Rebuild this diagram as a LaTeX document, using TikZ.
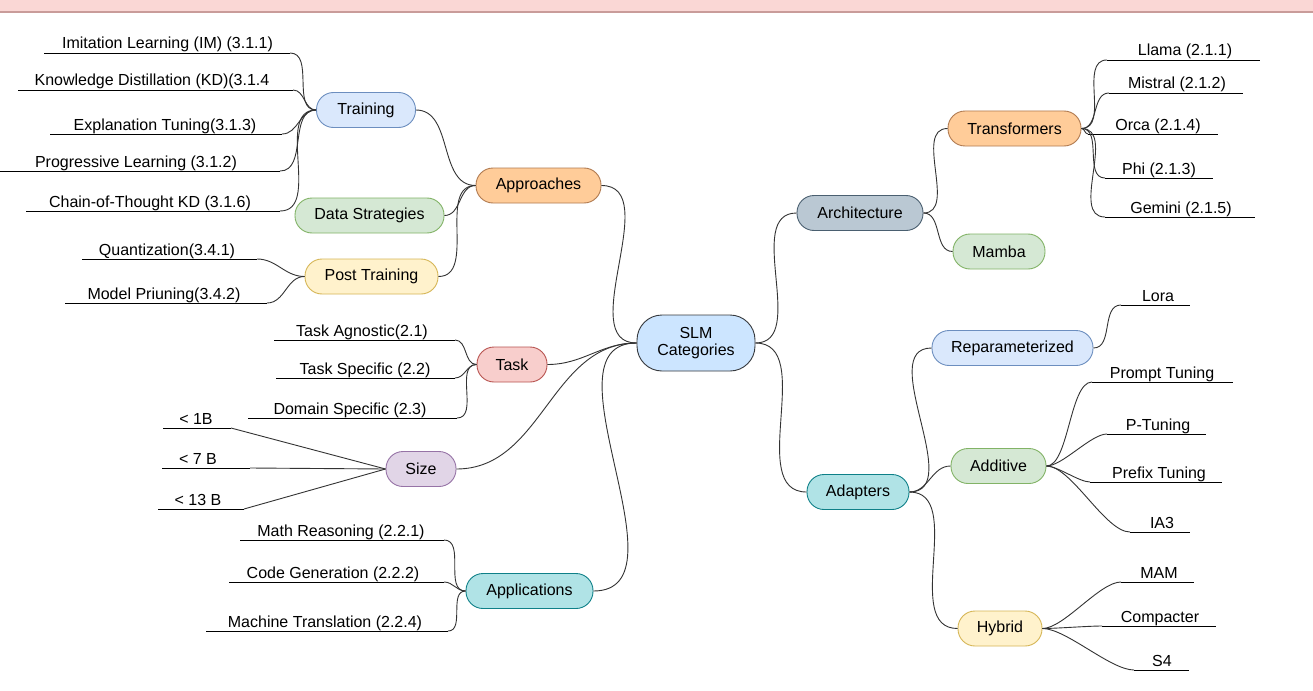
\documentclass[tikz,border=0pt]{standalone}
\usepackage{fontspec}
\setmainfont{Liberation Sans}
\definecolor{slmF}{HTML}{CCE5FF}
\definecolor{dkS}{HTML}{36393D}
\definecolor{blueF}{HTML}{DAE8FC}
\definecolor{blueD}{HTML}{6C8EBF}
\definecolor{orangeF}{HTML}{FFCC99}
\definecolor{orangeD}{HTML}{B07A50}
\definecolor{greenF}{HTML}{D5E8D4}
\definecolor{greenD}{HTML}{82B366}
\definecolor{yellowF}{HTML}{FFF2CC}
\definecolor{yellowD}{HTML}{D6B656}
\definecolor{redF}{HTML}{F8CECC}
\definecolor{redD}{HTML}{B85450}
\definecolor{purpleF}{HTML}{E1D5E7}
\definecolor{purpleD}{HTML}{9673A6}
\definecolor{tealF}{HTML}{B0E3E6}
\definecolor{tealD}{HTML}{0E8088}
\definecolor{slateF}{HTML}{BAC8D3}
\definecolor{slateD}{HTML}{4A5F70}
\definecolor{bandF}{HTML}{FAD7D5}
\definecolor{bandD}{HTML}{C99C9A}
\definecolor{linkC}{HTML}{333333}
\tikzset{
  box/.style={draw, rounded corners=17pt, minimum height=35pt, inner sep=0pt,
    font=\fontsize{16}{19}\selectfont, line width=0.9pt, text=black},
  leaftext/.style={anchor=base, inner sep=0pt, font=\fontsize{16}{19}\selectfont, text=black},
  link/.style={draw=linkC, line width=0.9pt},
  uline/.style={draw=black, line width=0.9pt}
}
\newcommand{\leafline}[6]{%
  \coordinate (#1-l) at (#2,#4);
  \coordinate (#1-r) at (#3,#4);
  \node[leaftext] (#1) at (#5,#4-4) {#6};
  \draw[uline] (#1-l) -- (#1-r);
}
\begin{document}
\begin{tikzpicture}[x=1pt,y=-1pt]
\useasboundingbox (0,0) rectangle (1313,690);
\fill[white] (0,0) rectangle (1313,690);
\fill[bandF] (0,0) rectangle (1313,11);
\draw[bandD, line width=2.2pt] (0,12) -- (1313,12);

% main nodes
\node[box, fill=slmF, draw=dkS, minimum width=118pt, minimum height=56pt, rounded corners=25pt, align=center] (slm) at (696,343) {SLM\\[-2pt]Categories};
\node[box, fill=orangeF, draw=orangeD, minimum width=125pt] (appr) at (538.5,185.5) {Approaches};
\node[box, fill=blueF, draw=blueD, minimum width=99pt] (train) at (366,110) {Training};
\node[box, fill=greenF, draw=greenD, minimum width=149pt] (data) at (369.5,215.5) {Data Strategies};
\node[box, fill=yellowF, draw=yellowD, minimum width=133pt] (post) at (371.5,276.5) {Post Training};
\node[box, fill=redF, draw=redD, minimum width=70pt] (task) at (512,364.5) {Task};
\node[box, fill=purpleF, draw=purpleD, minimum width=70pt] (size) at (421,469) {Size};
\node[box, fill=tealF, draw=tealD, minimum width=127pt] (appl) at (529.5,591) {Applications};
\node[box, fill=slateF, draw=slateD, minimum width=126pt] (arch) at (860,213) {Architecture};
\node[box, fill=orangeF, draw=orangeD, minimum width=133pt] (trans) at (1014.5,128.5) {Transformers};
\node[box, fill=greenF, draw=greenD, minimum width=92pt] (mamba) at (999,251.5) {Mamba};
\node[box, fill=tealF, draw=tealD, minimum width=102pt] (adapt) at (858,492) {Adapters};
\node[box, fill=blueF, draw=blueD, minimum width=161pt] (repar) at (1012.5,348) {Reparameterized};
\node[box, fill=greenF, draw=greenD, minimum width=95pt] (addi) at (998.5,466) {Additive};
\node[box, fill=yellowF, draw=yellowD, minimum width=84pt] (hyb) at (1000,628.5) {Hybrid};

% left leaves
\leafline{im}{44}{290}{53}{167.5}{Imitation Learning (IM) (3.1.1)}
\leafline{kd}{18}{293}{90}{152}{Knowledge Distillation (KD)(3.1.4}
\leafline{et}{50}{282}{134}{165}{Explanation Tuning(3.1.3)}
\leafline{pl}{0}{280}{171}{136}{Progressive Learning (3.1.2)}
\leafline{cot}{26}{280}{211}{150}{Chain-of-Thought KD (3.1.6)}
\leafline{qz}{82}{257}{259}{167}{Quantization(3.4.1)}
\leafline{mp}{65}{267}{303}{164}{Model Priuning(3.4.2)}
\leafline{ta}{274}{455}{340}{362}{Task Agnostic(2.1)}
\leafline{ts}{276}{455}{378}{365}{Task Specific (2.2)}
\leafline{ds}{248}{457}{418}{350}{Domain Specific (2.3)}
\leafline{bone}{163}{231}{428}{196}{< 1B}
\leafline{bseven}{162}{250}{468}{198}{< 7 B}
\leafline{bthirteen}{158}{244}{509}{198}{< 13 B}
\leafline{mr}{240}{444}{540}{341}{Math Reasoning (2.2.1)}
\leafline{cg}{229}{444}{582}{333}{Code Generation (2.2.2)}
\leafline{mt}{206}{448}{631}{325}{Machine Translation (2.2.4)}

% right leaves
\leafline{llama}{1107}{1260}{60}{1185}{Llama (2.1.1)}
\leafline{mistral}{1109}{1243}{93}{1177}{Mistral (2.1.2)}
\leafline{orca}{1088}{1218}{134}{1158}{Orca (2.1.4)}
\leafline{phi}{1105}{1213}{178}{1159}{Phi (2.1.3)}
\leafline{gemini}{1105}{1255}{217}{1181}{Gemini (2.1.5)}
\leafline{lora}{1121}{1190}{305}{1158}{Lora}
\leafline{prompt}{1092}{1233}{382}{1162}{Prompt Tuning}
\leafline{ptun}{1107}{1206}{434}{1158}{P-Tuning}
\leafline{prefix}{1090}{1222}{482}{1159}{Prefix Tuning}
\leafline{iathree}{1130}{1190}{532}{1162}{IA3}
\leafline{mam}{1121}{1194}{582}{1159}{MAM}
\leafline{comp}{1102}{1216}{626}{1160}{Compacter}
\leafline{sfour}{1134}{1189}{670}{1162}{S4}

% connectors: center to level 1
\draw[link] (slm.west) to[out=180,in=0] (appr.east);
\draw[link] (slm.west) to[out=180,in=0] (task.east);
\draw[link] (slm.west) to[out=180,in=0] (size.east);
\draw[link] (slm.west) to[out=180,in=0] (appl.east);
\draw[link] (slm.east) to[out=0,in=180] (arch.west);
\draw[link] (slm.east) to[out=0,in=180] (adapt.west);

% approaches
\draw[link] (appr.west) to[out=180,in=0] (train.east);
\draw[link] (appr.west) to[out=180,in=0] (data.east);
\draw[link] (appr.west) to[out=180,in=0] (post.east);
\foreach \l in {im,kd,et,pl,cot} \draw[link] (train.west) to[out=180,in=0] (\l-r);
\foreach \l in {qz,mp} \draw[link] (post.west) to[out=180,in=0] (\l-r);
\foreach \l in {ta,ts,ds} \draw[link] (task.west) to[out=180,in=0] (\l-r);
\foreach \l in {bone,bseven,bthirteen} \draw[link] (size.west) -- (\l-r);
\foreach \l in {mr,cg,mt} \draw[link] (appl.west) to[out=180,in=0] (\l-r);

% right side
\draw[link] (arch.east) to[out=0,in=180] (trans.west);
\draw[link] (arch.east) to[out=0,in=180] (mamba.west);
\foreach \l in {llama,mistral,orca,phi,gemini} \draw[link] (trans.east) to[out=0,in=180] (\l-l);
\draw[link] (adapt.east) to[out=0,in=180] (repar.west);
\draw[link] (adapt.east) to[out=0,in=180] (addi.west);
\draw[link] (adapt.east) to[out=0,in=180] (hyb.west);
\draw[link] (repar.east) to[out=0,in=180] (lora-l);
\foreach \l in {prompt,ptun,prefix,iathree} \draw[link] (addi.east) to[out=0,in=180,looseness=0.6] (\l-l);
\foreach \l in {mam,comp,sfour} \draw[link] (hyb.east) to[out=0,in=180,looseness=0.6] (\l-l);
\end{tikzpicture}
\end{document}
